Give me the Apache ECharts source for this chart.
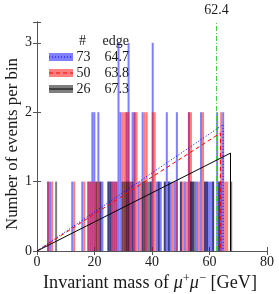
<!DOCTYPE html>
<html><head><meta charset="utf-8">
<script src="https://cdn.jsdelivr.net/npm/echarts@6/dist/echarts.min.js"></script>
<style>html,body{margin:0;padding:0;background:#fff}#c{width:279px;height:294px}</style>
</head><body><div id="c"></div>
<script>
// ---- data ----
const binWidth = 0.7; // GeV
// [bin lower edge (GeV), events]
const blueBins = [[3.5,1],[4.2,1],[11.9,1],[15.4,1],[17.5,1],[18.2,1],[18.9,2],[19.6,2],[21.0,2],[21.7,1],[22.4,1],
  [24.5,1],[25.2,1],[25.9,1],[26.6,1],[27.3,1],[28.0,3],[28.7,2],[30.8,2],[31.5,3],[32.2,1],[32.9,2],[33.6,2],[35.0,1],
  [36.4,2],[37.8,1],[39.2,1],[39.9,3],[41.3,1],[42.0,1],[42.7,1],[44.1,1],[44.8,2],[45.5,1],[46.2,1],[47.6,1],[48.3,2],
  [49.7,1],[51.1,1],[52.5,2],[53.2,1],[53.9,1],[55.3,1],[56.7,2],[58.1,1],[58.8,1],[59.5,1],[60.2,1],[60.9,1],[62.3,2],
  [63.0,1],[63.7,1],[64.4,2]];
const redBins = [[3.5,1],[4.9,1],[12.6,1],[16.1,1],[17.5,1],[18.2,1],[18.9,1],[19.6,1],[20.3,1],[21.0,1],[25.9,1],
  [26.6,1],[27.3,1],[29.4,2],[30.1,2],[30.8,2],[31.5,2],[32.2,1],[33.6,2],[34.3,2],[35.7,1],[37.1,2],[37.8,2],[39.9,2],
  [40.6,2],[46.9,1],[48.3,1],[50.4,1],[51.8,1],[52.5,2],[53.2,2],[56.0,1],[57.4,2],[63.7,2],[65.1,1],[65.8,1]];
const blackBins = [[6.3,1],[20.3,1],[21.7,1],[24.5,1],[25.2,1],[29.4,1],[30.1,1],[30.8,1],[31.5,1],[32.9,1],[36.4,1],
  [37.1,1],[38.5,1],[39.2,1],[42.0,1],[44.1,1],[45.5,1],[49.7,1],[53.2,1],[53.9,1],[54.6,1],[58.1,1],[58.8,1],[60.9,1],
  [63.0,1],[67.2,1]];
const legendCounts = ['73','50','26'];
const legendEdges = ['64.7','63.8','67.3'];
const edgeValues = [64.7, 63.8, 67.3];
const peakValues = [1.82, 1.70, 1.41];
const markerValue = 62.4;
const xTicks = [0, 20, 40, 60, 80];
const yTicks = [0, 1, 2, 3];

// ---- chart ----
const FONT = "'Liberation Serif','DejaVu Serif',serif";
const TXT = '#1a1a1a';
const AX = '#555';
const colors = ['rgba(0,0,255,0.5)','rgba(255,0,0,0.5)','rgba(0,0,0,0.5)'];
const lineColors = ['#0000ff','#ff0000','#000000'];
const lineTypes = [[1,2],[4,3],'solid'];

// fit title font sizes to the reference text extents
const mctx = document.createElement('canvas').getContext('2d');
function tw(text, size, style) { mctx.font = (style || '') + ' ' + size + 'px ' + FONT; return mctx.measureText(text).width; }
const B = 16;
const xTitleW = tw('Invariant mass of ', B) + 2 * tw('μ', B, 'italic') + 2 * tw('+', B * 0.69) + tw(' [GeV]', B);
const xs = B * 214 / xTitleW;
const ys = B * 172 / tw('Number of events per bin', B);

function hist(bins, color) {
  return {
    type: 'custom', xAxisIndex: 0, yAxisIndex: 0, data: bins, encode: {x: 0, y: 1}, silent: true,
    renderItem: function (params, api) {
      const x0 = api.value(0), c = api.value(1);
      const p0 = api.coord([x0, 0]), p1 = api.coord([x0 + binWidth, c]);
      return {type: 'rect', shape: {x: p0[0], y: p1[1], width: p1[0] - p0[0], height: p0[1] - p1[1]},
        style: {fill: color}};
    }
  };
}
function fitLine(i) {
  return {
    type: 'line', xAxisIndex: 0, yAxisIndex: 0, symbol: 'none', silent: true, z: 5,
    data: [[0, 0], [edgeValues[i], peakValues[i]], [edgeValues[i], 0]],
    lineStyle: {color: lineColors[i], width: 1, type: lineTypes[i]}
  };
}
const axCommon = {
  axisLine: {show: true, lineStyle: {color: AX, width: 1}},
  axisTick: {show: true, inside: true, length: 4, lineStyle: {color: AX}},
  splitLine: {show: false}
};
const option = {
  animation: false,
  grid: {left: 37, right: 12, top: 22, bottom: 43},
  xAxis: [
    Object.assign({type: 'value', min: xTicks[0], max: xTicks[xTicks.length - 1], interval: 20, position: 'bottom',
      axisLabel: {fontFamily: FONT, fontSize: 14, color: TXT, margin: 4}}, axCommon),
    Object.assign({type: 'value', min: xTicks[0], max: xTicks[xTicks.length - 1], interval: 20, position: 'top',
      axisLabel: {show: false}}, axCommon)
  ],
  yAxis: [
    Object.assign({type: 'value', min: 0, max: 3.3, interval: 1, position: 'left',
      axisLabel: {fontFamily: FONT, fontSize: 14, color: TXT, margin: 5,
        formatter: v => (yTicks.indexOf(v) >= 0 ? String(v) : '')}}, axCommon),
    Object.assign({type: 'value', min: 0, max: 3.3, interval: 1, position: 'right',
      axisLabel: {show: false}}, axCommon)
  ],
  series: [
    hist(blueBins, colors[0]),
    hist(redBins, colors[1]),
    hist(blackBins, colors[2]),
    fitLine(0), fitLine(1), fitLine(2),
    {
      type: 'line', xAxisIndex: 0, yAxisIndex: 0, data: [], silent: true,
      markLine: {
        symbol: 'none', silent: true, animation: false,
        data: [{xAxis: markerValue}],
        lineStyle: {color: '#44cc44', width: 1, type: [5, 2, 1, 2]},
        label: {show: true, position: 'end', formatter: String(markerValue), fontFamily: FONT, fontSize: 14,
          color: TXT, distance: 5}
      }
    }
  ],
  graphic: []
};
// axis titles
option.graphic.push({
  type: 'text', x: 150, y: 283, style: {
    text: '{t|Invariant mass of }{m|μ}{s|+}{m|μ}{s|−}{t| [GeV]}', align: 'center', verticalAlign: 'middle',
    fontFamily: FONT, fontSize: xs, fill: TXT,
    rich: {t: {fontFamily: FONT, fontSize: xs, fill: TXT}, m: {fontFamily: FONT, fontSize: xs, fontStyle: 'italic', fill: TXT},
      s: {fontFamily: FONT, fontSize: xs * 0.69, fill: TXT, padding: [0, 0, Math.round(xs * 0.5), 0]}}
  }
});
option.graphic.push({
  type: 'text', x: 12.5, y: 144, rotation: Math.PI / 2, style: {
    text: 'Number of events per bin', align: 'center', verticalAlign: 'middle', fontFamily: FONT, fontSize: ys, fill: TXT
  }
});
// legend
option.graphic.push({type: 'text', x: 82.5, y: 41, style: {text: '#', align: 'center', verticalAlign: 'middle', fontFamily: FONT, fontSize: 14, fill: TXT}});
option.graphic.push({type: 'text', x: 129, y: 41, style: {text: 'edge', align: 'right', verticalAlign: 'middle', fontFamily: FONT, fontSize: 14, fill: TXT}});
const rowY = [57, 73, 89];
for (let i = 0; i < 3; i++) {
  option.graphic.push({type: 'rect', shape: {x: 49, y: rowY[i] - 4, width: 24, height: 8}, style: {fill: colors[i]}});
  option.graphic.push({type: 'line', shape: {x1: 49, y1: rowY[i], x2: 73, y2: rowY[i]},
    style: {stroke: lineColors[i], lineWidth: 1, lineDash: lineTypes[i] === 'solid' ? null : lineTypes[i]}});
  option.graphic.push({type: 'text', x: 76.5, y: rowY[i], style: {text: legendCounts[i], align: 'left', verticalAlign: 'middle', fontFamily: FONT, fontSize: 14, fill: TXT}});
  option.graphic.push({type: 'text', x: 129, y: rowY[i], style: {text: legendEdges[i], align: 'right', verticalAlign: 'middle', fontFamily: FONT, fontSize: 14, fill: TXT}});
}
const chart = echarts.init(document.getElementById('c'), null, {renderer: 'canvas'});
chart.setOption(option);
</script>
</body></html>
